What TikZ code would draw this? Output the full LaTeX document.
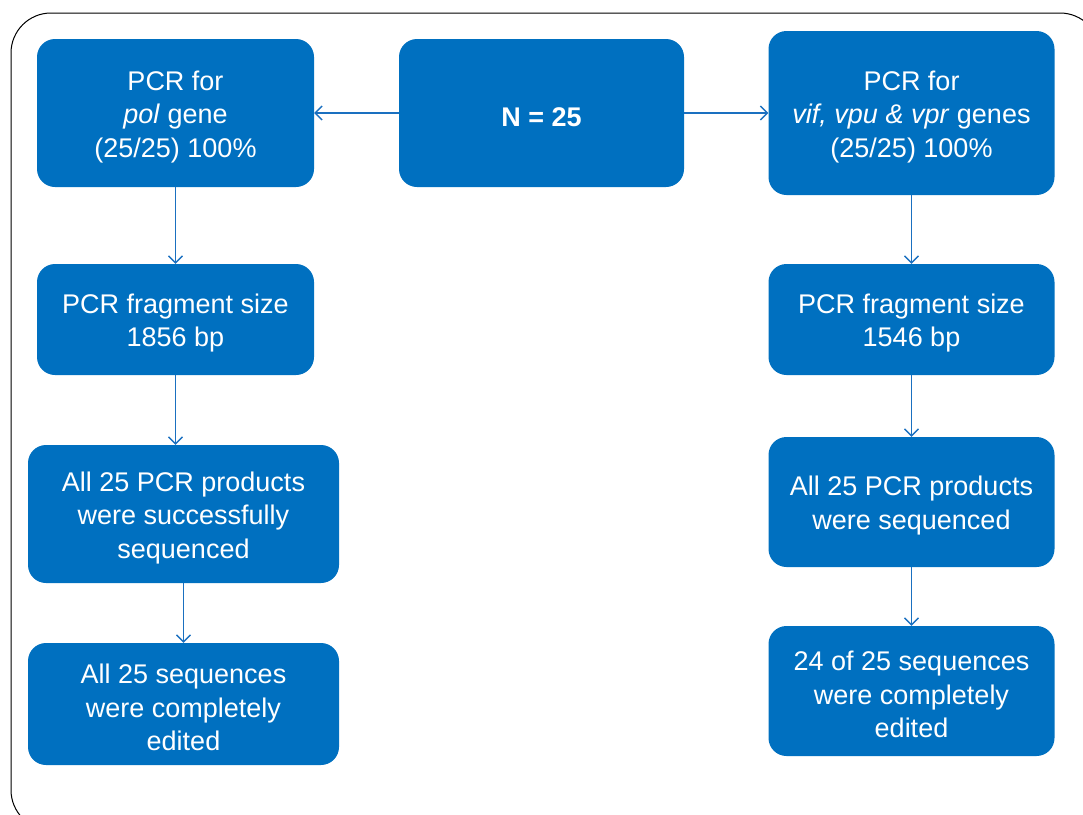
\documentclass[tikz,border=0pt]{standalone}
\usepackage{fontspec}
\setmainfont{Liberation Sans}
\usetikzlibrary{arrows.meta}
\definecolor{boxblue}{HTML}{0070C0}
\definecolor{lineblue}{HTML}{1A70C0}
\newcommand\topgap{\rule{0pt}{27pt}}
\begin{document}
\begin{tikzpicture}[x=1pt,y=-1pt,
  box/.style={draw=none, fill=boxblue, rounded corners=18pt, text=white, align=center,
    font=\fontsize{27}{33.5}\selectfont, inner sep=0pt},
  conn/.style={draw=lineblue, line width=1.3pt, -{Straight Barb[length=7pt,width=14pt]}}]
\useasboundingbox (0,0) rectangle (1083,814);
\begin{scope}
\clip (0,0) rectangle (1083,814);
\draw[line width=1pt, rounded corners=40pt] (11,13) rectangle (1100,830);
\end{scope}
\node[box, minimum width=277pt, minimum height=148pt] (L1) at (175.5,113) {\topgap PCR for\\\textit{pol} gene\\(25/25) 100\%};
\node[box, minimum width=285pt, minimum height=148pt, font=\fontsize{27}{33.5}\selectfont\bfseries] (N) at (541.5,113) {\topgap N = 25};
\node[box, minimum width=286pt, minimum height=164pt] (R1) at (911.5,113) {\topgap PCR for\\\textit{vif, vpu \& vpr} genes\\(25/25) 100\%};
\node[box, minimum width=277pt, minimum height=111pt] (L2) at (175.5,319.5) {\topgap PCR fragment size\\1856 bp};
\node[box, minimum width=286pt, minimum height=111pt] (R2) at (911.5,319.5) {\topgap PCR fragment size\\1546 bp};
\node[box, minimum width=311pt, minimum height=138pt] (L3) at (183.5,514) {\topgap All 25 PCR products\\were successfully\\sequenced};
\node[box, minimum width=286pt, minimum height=130pt] (R3) at (911.5,502) {\topgap All 25 PCR products\\were sequenced};
\node[box, minimum width=311pt, minimum height=122pt] (L4) at (183.5,704) {\topgap All 25 sequences\\were completely\\edited};
\node[box, minimum width=286pt, minimum height=130pt] (R4) at (911.5,691) {\topgap 24 of 25 sequences\\were completely\\edited};
\draw[conn] (N.west) -- (L1.east);
\draw[conn] (N.east) -- (R1.west);
\draw[conn] (L1.south) -- (L2.north);
\draw[conn] (L2.south) -- (L2.south |- L3.north);
\draw[conn] (L3.south) -- (L4.north);
\draw[conn] (R1.south) -- (R2.north);
\draw[conn] (R2.south) -- (R3.north);
\draw[conn] (R3.south) -- (R4.north);
\end{tikzpicture}
\end{document}
